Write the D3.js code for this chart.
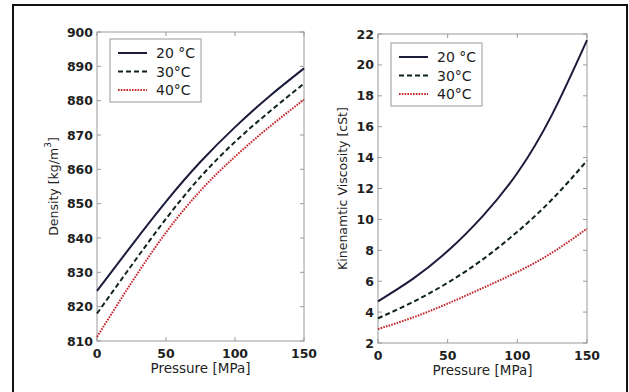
<!DOCTYPE html>
<html>
<head>
<meta charset="utf-8">
<script src="https://cdn.jsdelivr.net/npm/d3@7"></script>
<style>
  body { margin: 0; background: #fff; }
  svg text { font-family: "DejaVu Sans", sans-serif; fill: #1e1e1e; }
</style>
</head>
<body>
<svg id="chart" width="629" height="392"></svg>
<script>
// Pressure samples (MPa)
const pressure = [0, 25, 50, 75, 100, 125, 150];

// Density [kg/m3]
const density20 = [824.6, 837.8, 850.6, 862.2, 872.3, 881.3, 889.4];
const density30 = [818.0, 832.0, 845.6, 857.8, 868.0, 876.8, 885.0];
const density40 = [811.2, 827.0, 841.6, 853.8, 863.7, 872.4, 880.3];

// Kinematic viscosity [cSt]
const visc20 = [4.7, 6.15, 7.95, 10.2, 13.0, 16.8, 21.6];
const visc30 = [3.6, 4.65, 5.9, 7.4, 9.2, 11.3, 13.8];
const visc40 = [2.9, 3.65, 4.55, 5.55, 6.6, 7.85, 9.4];

const xTicks = [0, 50, 100, 150];
const densityTicks = [810, 820, 830, 840, 850, 860, 870, 880, 890, 900];
const viscTicks = [2, 4, 6, 8, 10, 12, 14, 16, 18, 20, 22];
const legendLabels = ["20 °C", "30°C", "40°C"];

const seriesStyle = [
  { color: "#1b1b3c", dash: null, width: 2 },
  { color: "#0f2418", dash: "5,3", width: 2 },
  { color: "#c4262c", dash: "1.6,1.2", width: 2 }
];

const svg = d3.select("#chart");

// outer frame
svg.append("path")
  .attr("d", "M13,400V5H627V400")
  .attr("fill", "none")
  .attr("stroke", "#111")
  .attr("stroke-width", 2);

function drawPanel(opts) {
  const { left, right, top, bottom, yDomain, yTicks, series, yLabel, legend } = opts;
  const x = d3.scaleLinear().domain([0, 150]).range([left, right]);
  const y = d3.scaleLinear().domain(yDomain).range([bottom, top]);
  const g = svg.append("g");

  // frame
  g.append("rect")
    .attr("x", left).attr("y", top)
    .attr("width", right - left).attr("height", bottom - top)
    .attr("fill", "none").attr("stroke", "#9a9a9a").attr("stroke-width", 1);

  // inward ticks on all sides
  const tl = 4;
  xTicks.forEach((t) => {
    g.append("line").attr("x1", x(t)).attr("x2", x(t)).attr("y1", bottom).attr("y2", bottom - tl).attr("stroke", "#9a9a9a");
    g.append("line").attr("x1", x(t)).attr("x2", x(t)).attr("y1", top).attr("y2", top + tl).attr("stroke", "#9a9a9a");
    g.append("text").attr("x", x(t)).attr("y", bottom + 12)
      .attr("text-anchor", "middle").attr("dominant-baseline", "central")
      .attr("font-size", 12.5).attr("font-weight", "bold").text(t);
  });
  yTicks.forEach((t) => {
    g.append("line").attr("x1", left).attr("x2", left + tl).attr("y1", y(t)).attr("y2", y(t)).attr("stroke", "#9a9a9a");
    g.append("line").attr("x1", right).attr("x2", right - tl).attr("y1", y(t)).attr("y2", y(t)).attr("stroke", "#9a9a9a");
    g.append("text").attr("x", left - 4).attr("y", y(t))
      .attr("text-anchor", "end").attr("dominant-baseline", "central")
      .attr("font-size", 12.5).attr("font-weight", "bold").text(t);
  });

  // axis labels
  g.append("text")
    .attr("x", (left + right) / 2).attr("y", bottom + 27)
    .attr("text-anchor", "middle").attr("dominant-baseline", "central")
    .attr("font-size", 13.5).text("Pressure [MPa]");
  const yl = g.append("text")
    .attr("transform", `translate(${opts.yLabelX},${(top + bottom) / 2}) rotate(-90)`)
    .attr("text-anchor", "middle").attr("dominant-baseline", "central")
    .attr("font-size", 12.5);
  yLabel(yl);

  // curves
  const line = d3.line()
    .x((d, i) => x(pressure[i]))
    .y((d) => y(d))
    .curve(d3.curveNatural);
  series.forEach((s, i) => {
    const st = seriesStyle[i];
    g.append("path")
      .datum(s)
      .attr("d", line)
      .attr("fill", "none")
      .attr("stroke", st.color)
      .attr("stroke-width", st.width)
      .attr("stroke-dasharray", st.dash);
  });

  // legend
  g.append("rect")
    .attr("x", legend.x).attr("y", legend.y)
    .attr("width", 91).attr("height", 63)
    .attr("fill", "#fff").attr("stroke", "#9a9a9a");
  legendLabels.forEach((lab, i) => {
    const ly = legend.y + 14 + i * 18.5;
    const st = seriesStyle[i];
    g.append("line")
      .attr("x1", legend.x + 8).attr("x2", legend.x + 37)
      .attr("y1", ly).attr("y2", ly)
      .attr("stroke", st.color).attr("stroke-width", st.width)
      .attr("stroke-dasharray", st.dash);
    g.append("text")
      .attr("x", legend.x + 46).attr("y", ly)
      .attr("dominant-baseline", "central")
      .attr("font-size", 14).text(lab);
  });
}

drawPanel({
  left: 97, right: 304, top: 32, bottom: 341,
  yDomain: [810, 900], yTicks: densityTicks,
  series: [density20, density30, density40],
  yLabelX: 53,
  yLabel: (t) => {
    t.append("tspan").text("Density [kg/m");
    t.append("tspan").attr("font-size", 9).attr("dy", -5).text("3");
    t.append("tspan").attr("dy", 5).text("]");
  },
  legend: { x: 110, y: 39 }
});

drawPanel({
  left: 378, right: 587, top: 34, bottom: 343,
  yDomain: [2, 22], yTicks: viscTicks,
  series: [visc20, visc30, visc40],
  yLabelX: 342,
  yLabel: (t) => t.text("Kinenamtic Viscosity [cSt]"),
  legend: { x: 391, y: 43 }
});
</script>
</body>
</html>
